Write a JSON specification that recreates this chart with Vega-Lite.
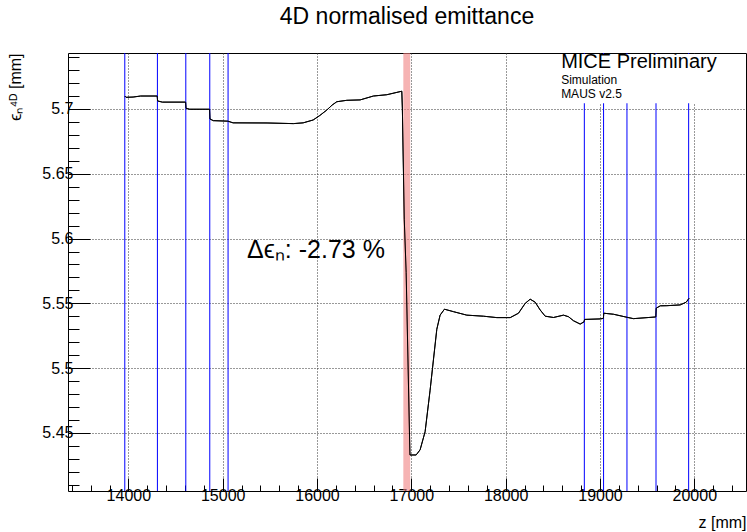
{
  "$schema": "https://vega.github.io/schema/vega-lite/v6.json",
  "width": 678,
  "height": 438,
  "autosize": {"type": "none"},
  "padding": {"left": 68, "top": 53, "right": 1, "bottom": 41},
  "background": "white",
  "config": {
    "view": {"stroke": "#000", "strokeWidth": 1},
    "font": "Liberation Sans",
    "axis": {"labelOverlap": false}
  },
  "title": {
    "text": "4D normalised emittance",
    "fontSize": 23,
    "fontWeight": "normal",
    "font": "Liberation Sans",
    "color": "#000",
    "frame": "group",
    "anchor": "middle",
    "baseline": "alphabetic",
    "offset": 2
  },
  "datasets": {
    "curve": [
      {"z": 13962, "e": 5.7100}, {"z": 13975, "e": 5.7090}, {"z": 14050, "e": 5.7092}, {"z": 14130, "e": 5.7100},
      {"z": 14306, "e": 5.7100}, {"z": 14310, "e": 5.7062}, {"z": 14360, "e": 5.7053}, {"z": 14607, "e": 5.7053},
      {"z": 14611, "e": 5.7005}, {"z": 14650, "e": 5.6998}, {"z": 14861, "e": 5.6998}, {"z": 14865, "e": 5.6923},
      {"z": 14900, "e": 5.6910}, {"z": 15055, "e": 5.6906}, {"z": 15110, "e": 5.6893}, {"z": 15470, "e": 5.6892},
      {"z": 15750, "e": 5.6887}, {"z": 15853, "e": 5.6893}, {"z": 15959, "e": 5.6915}, {"z": 16030, "e": 5.6950},
      {"z": 16104, "e": 5.6992}, {"z": 16160, "e": 5.7030}, {"z": 16210, "e": 5.7056}, {"z": 16316, "e": 5.7067},
      {"z": 16457, "e": 5.7070}, {"z": 16598, "e": 5.7100}, {"z": 16740, "e": 5.7110}, {"z": 16899, "e": 5.7137},
      {"z": 16905, "e": 5.7000}, {"z": 16925, "e": 5.6150}, {"z": 16945, "e": 5.5740}, {"z": 16985, "e": 5.4330},
      {"z": 17051, "e": 5.4330}, {"z": 17093, "e": 5.4370}, {"z": 17146, "e": 5.4510}, {"z": 17199, "e": 5.4830},
      {"z": 17234, "e": 5.5063}, {"z": 17270, "e": 5.5300}, {"z": 17305, "e": 5.5409}, {"z": 17351, "e": 5.5455},
      {"z": 17446, "e": 5.5436}, {"z": 17588, "e": 5.5409}, {"z": 17764, "e": 5.5401}, {"z": 17907, "e": 5.5390},
      {"z": 18048, "e": 5.5390}, {"z": 18136, "e": 5.5424}, {"z": 18207, "e": 5.5500}, {"z": 18260, "e": 5.5532},
      {"z": 18313, "e": 5.5509}, {"z": 18366, "e": 5.5449}, {"z": 18419, "e": 5.5401}, {"z": 18507, "e": 5.5391},
      {"z": 18613, "e": 5.5409}, {"z": 18666, "e": 5.5397}, {"z": 18719, "e": 5.5366}, {"z": 18790, "e": 5.5340},
      {"z": 18832, "e": 5.5358}, {"z": 18836, "e": 5.5376}, {"z": 19002, "e": 5.5380}, {"z": 19036, "e": 5.5384},
      {"z": 19040, "e": 5.5424}, {"z": 19143, "e": 5.5416}, {"z": 19296, "e": 5.5391}, {"z": 19355, "e": 5.5382},
      {"z": 19592, "e": 5.5395}, {"z": 19596, "e": 5.5463}, {"z": 19640, "e": 5.5481}, {"z": 19709, "e": 5.5482},
      {"z": 19850, "e": 5.5488}, {"z": 19914, "e": 5.5509}, {"z": 19945, "e": 5.5540}
    ],
    "stations": [
      {"z": 13962}, {"z": 14308}, {"z": 14609}, {"z": 14863}, {"z": 15057},
      {"z": 18834}, {"z": 19038}, {"z": 19286}, {"z": 19594}, {"z": 19940}
    ],
    "absorber": [{"z0": 16915, "z1": 16988}]
  },
  "layer": [
    {
      "data": {"name": "curve"},
      "mark": {"type": "line", "color": "#000", "strokeWidth": 1},
      "encoding": {
        "x": {
          "field": "z", "type": "quantitative",
          "scale": {"domain": [13360, 20548], "nice": false, "zero": false},
          "axis": {
            "values": [13400, 13600, 13800, 14000, 14200, 14400, 14600, 14800, 15000, 15200, 15400, 15600, 15800, 16000, 16200, 16400, 16600, 16800, 17000, 17200, 17400, 17600, 17800, 18000, 18200, 18400, 18600, 18800, 19000, 19200, 19400, 19600, 19800, 20000, 20200, 20400],
            "tickCount": 200,
            "format": "d",
            "labelExpr": "datum.value % 1000 === 0 ? datum.label : ''",
            "labelFontSize": 16, "labelColor": "#000", "labelFont": "Liberation Sans",
            "labelPadding": 9, "labelFlush": false, "labelOverlap": false,
            "ticks": true,
            "tickSize": {"condition": {"test": "datum.value % 1000 === 0", "value": -13}, "value": -6},
            "tickColor": "#000", "tickWidth": 1,
            "domain": false,
            "grid": true, "gridDash": [1, 2], "gridColor": "#333", "gridWidth": 1,
            "gridOpacity": {"condition": {"test": "datum.value % 1000 === 0", "value": 1}, "value": 0},
            "title": "z [mm]", "titleAnchor": "end", "titleFontSize": 16, "titleFontWeight": "normal",
            "titleColor": "#000", "titleFont": "Liberation Sans", "titlePadding": 4
          }
        },
        "y": {
          "field": "e", "type": "quantitative",
          "scale": {"domain": [5.4052, 5.7432], "nice": false, "zero": false},
          "axis": {
            "values": [5.41, 5.42, 5.43, 5.44, 5.45, 5.46, 5.47, 5.48, 5.49, 5.5, 5.51, 5.52, 5.53, 5.54, 5.55, 5.56, 5.57, 5.58, 5.59, 5.6, 5.61, 5.62, 5.63, 5.64, 5.65, 5.66, 5.67, 5.68, 5.69, 5.7, 5.71, 5.72, 5.73, 5.74],
            "tickCount": 200,
            "format": ".2~f",
            "labelExpr": "abs(datum.value * 20 - round(datum.value * 20)) < 0.0001 ? datum.label : ''",
            "labelFontSize": 16, "labelColor": "#000", "labelFont": "Liberation Sans",
            "labelPadding": 17, "labelFlush": false, "labelOverlap": false,
            "ticks": true,
            "tickSize": {"condition": {"test": "abs(datum.value * 20 - round(datum.value * 20)) < 0.0001", "value": -22}, "value": -11},
            "tickColor": "#000", "tickWidth": 1,
            "domain": false,
            "grid": true, "gridDash": [1, 2], "gridColor": "#333", "gridWidth": 1,
            "gridOpacity": {"condition": {"test": "abs(datum.value * 20 - round(datum.value * 20)) < 0.0001", "value": 1}, "value": 0},
            "title": "ϵₙ⁴ᴰ [mm]", "titleAnchor": "end", "titleFontSize": 16, "titleFontWeight": "normal",
            "titleColor": "#000", "titleFont": "Liberation Sans", "titlePadding": 18
          }
        }
      }
    },
    {
      "data": {"name": "absorber"},
      "mark": {"type": "rect", "color": "#f08080", "opacity": 0.6},
      "encoding": {
        "x": {"field": "z0", "type": "quantitative", "scale": {"domain": [13360, 20548], "nice": false, "zero": false}},
        "x2": {"field": "z1"}
      }
    },
    {
      "data": {"name": "stations"},
      "mark": {"type": "rule", "color": "#0000ff", "strokeWidth": 1},
      "encoding": {
        "x": {"field": "z", "type": "quantitative", "scale": {"domain": [13360, 20548], "nice": false, "zero": false}}
      }
    },
    {
      "data": {"name": "curve"},
      "mark": {"type": "line", "color": "#000", "strokeWidth": 1},
      "encoding": {
        "x": {"field": "z", "type": "quantitative", "scale": {"domain": [13360, 20548], "nice": false, "zero": false}},
        "y": {"field": "e", "type": "quantitative", "scale": {"domain": [5.4052, 5.7432], "nice": false, "zero": false}}
      }
    },
    {
      "data": {"values": [{}]},
      "mark": {"type": "rect", "fill": "#fff", "stroke": null},
      "encoding": {
        "x": {"datum": 18578, "type": "quantitative"},
        "x2": {"datum": 20538},
        "y": {"datum": 5.7044, "type": "quantitative"},
        "y2": {"datum": 5.7424}
      }
    },
    {
      "data": {"values": [{}]},
      "mark": {"type": "text", "align": "left", "baseline": "alphabetic", "fontSize": 20, "font": "Liberation Sans", "color": "#000"},
      "encoding": {
        "x": {"datum": 18588, "type": "quantitative"},
        "y": {"datum": 5.7316, "type": "quantitative"},
        "text": {"value": "MICE Preliminary"}
      }
    },
    {
      "data": {"values": [{}]},
      "mark": {"type": "text", "align": "left", "baseline": "alphabetic", "fontSize": 12, "font": "Liberation Sans", "color": "#000"},
      "encoding": {
        "x": {"datum": 18588, "type": "quantitative"},
        "y": {"datum": 5.7192, "type": "quantitative"},
        "text": {"value": "Simulation"}
      }
    },
    {
      "data": {"values": [{}]},
      "mark": {"type": "text", "align": "left", "baseline": "alphabetic", "fontSize": 12, "font": "Liberation Sans", "color": "#000"},
      "encoding": {
        "x": {"datum": 18588, "type": "quantitative"},
        "y": {"datum": 5.7088, "type": "quantitative"},
        "text": {"value": "MAUS v2.5"}
      }
    },
    {
      "data": {"values": [{}]},
      "mark": {"type": "text", "align": "left", "baseline": "alphabetic", "fontSize": 25, "font": "Liberation Sans", "color": "#000"},
      "encoding": {
        "x": {"datum": 15259, "type": "quantitative"},
        "y": {"datum": 5.585, "type": "quantitative"},
        "text": {"value": "Δϵₙ: -2.73 %"}
      }
    }
  ]
}
